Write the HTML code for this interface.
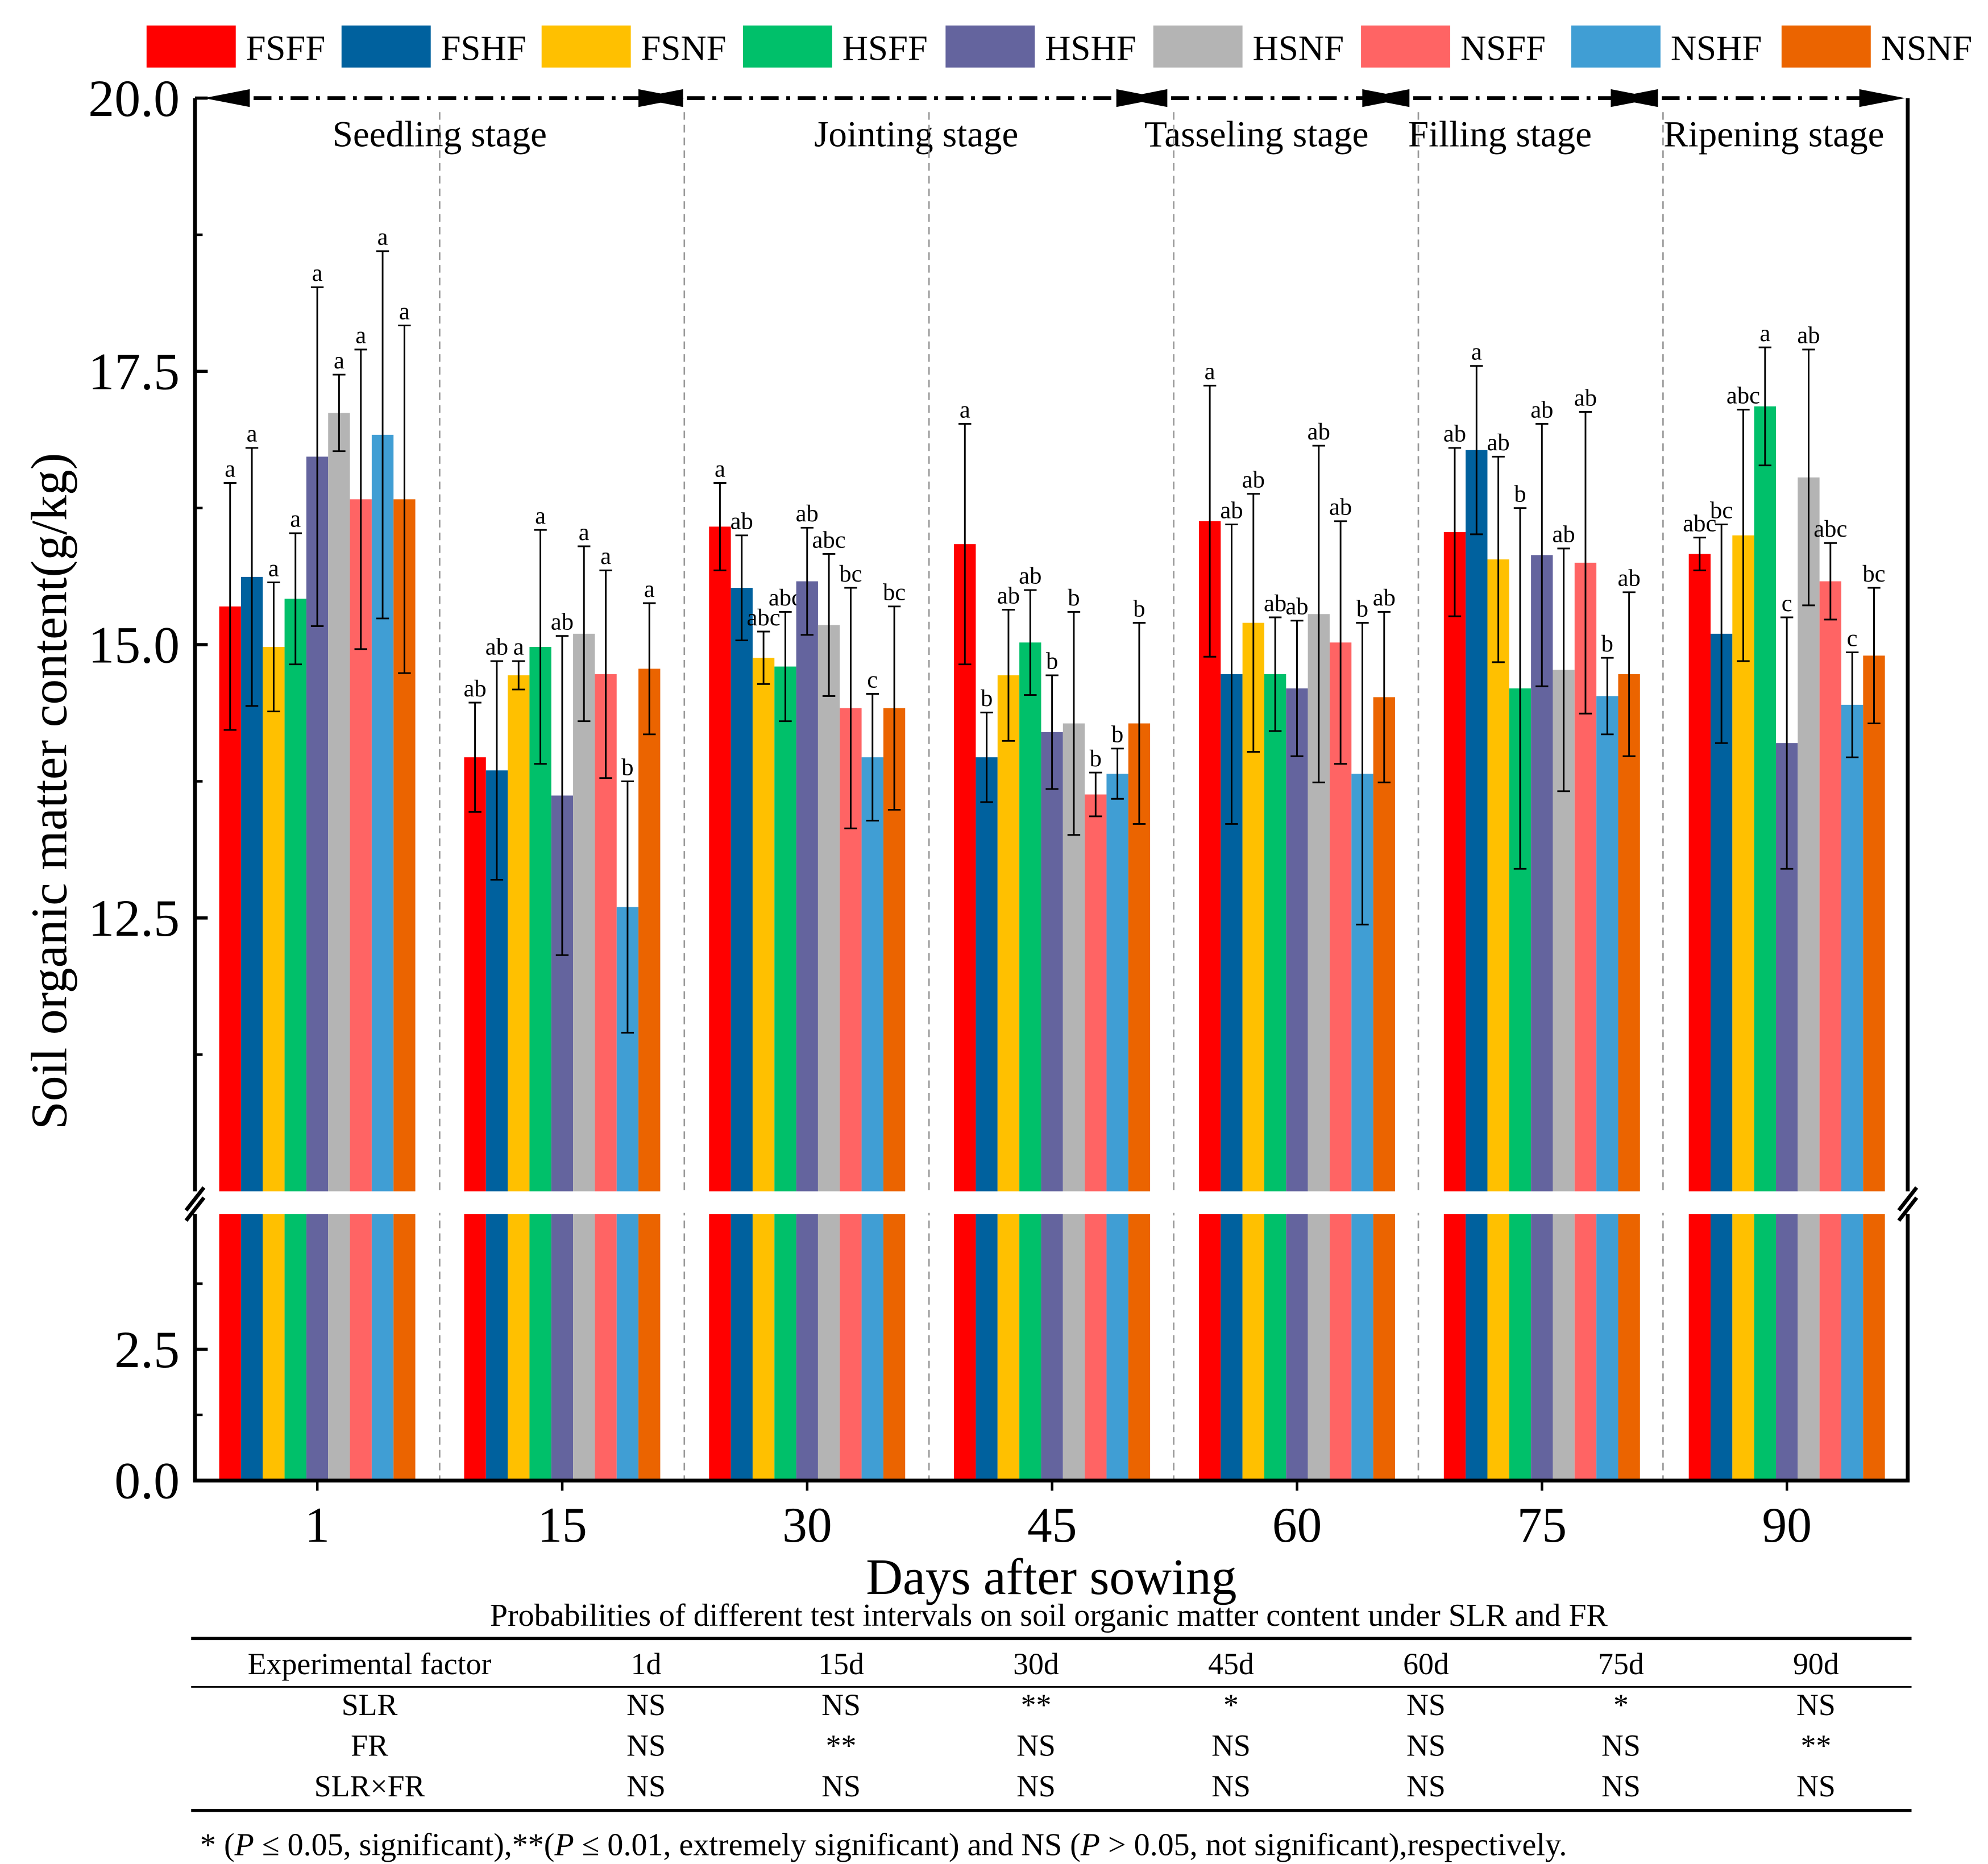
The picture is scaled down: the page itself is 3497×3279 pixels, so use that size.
<!DOCTYPE html>
<html><head><meta charset="utf-8"><style>
html,body{margin:0;padding:0;background:#fff}
svg{display:block;font-family:"Liberation Serif",serif}
</style></head><body>
<svg id="chart" width="3497" height="3279" viewBox="0 0 1560 1463" preserveAspectRatio="none" xmlns="http://www.w3.org/2000/svg">
<rect width="1560" height="1463" fill="#fff"/>
<g id="legend"></g>
<g id="stages"></g>
<g id="bars"></g>
<g id="axes"></g>
<g id="table"></g>
</svg>
<script>
const series=["FSFF","FSHF","FSNF","HSFF","HSHF","HSNF","NSFF","NSHF","NSNF"];
const colors=["#FF0000","#00619E","#FFC000","#00C06A","#64649E","#B4B4B4","#FF6464","#409ED4","#EB6400"];
const days=["1","15","30","45","60","75","90"];
const vFSFF=[15.35,13.97,16.08,15.92,16.13,16.03,15.83];
const vFSHF=[15.62,13.85,15.52,13.97,14.73,16.78,15.10];
const vFSNF=[14.98,14.72,14.88,14.72,15.20,15.78,16.00];
const vHSFF=[15.42,14.98,14.80,15.02,14.73,14.60,17.18];
const vHSHF=[16.72,13.62,15.58,14.20,14.60,15.82,14.10];
const vHSNF=[17.12,15.10,15.18,14.28,15.28,14.77,16.53];
const vNSFF=[16.33,14.73,14.42,13.63,15.02,15.75,15.58];
const vNSHF=[16.92,12.60,13.97,13.82,13.82,14.53,14.45];
const vNSNF=[16.33,14.78,14.42,14.28,14.52,14.73,14.90];
const eFSFF=[1.13,0.50,0.40,1.10,1.24,0.77,0.15];
const eFSHF=[1.18,1.00,0.48,0.41,1.37,0.77,1.00];
const eFSNF=[0.59,0.13,0.24,0.60,1.18,0.94,1.15];
const eHSFF=[0.60,1.07,0.50,0.48,0.52,1.65,0.54];
const eHSHF=[1.55,1.46,0.49,0.52,0.62,1.20,1.15];
const eHSNF=[0.35,0.80,0.65,1.02,1.54,1.11,1.17];
const eNSFF=[1.37,0.95,1.10,0.20,1.11,1.38,0.35];
const eNSHF=[1.68,1.15,0.58,0.23,1.38,0.35,0.48];
const eNSNF=[1.59,0.60,0.93,0.92,0.78,0.75,0.62];
const letters=[["a","a","a","a","a","a","a","a","a"],["ab","ab","a","a","ab","a","a","b","a"],["a","ab","abc","abc","ab","abc","bc","c","bc"],["a","b","ab","ab","b","b","b","b","b"],["a","ab","ab","ab","ab","ab","ab","b","ab"],["ab","a","ab","b","ab","ab","ab","b","ab"],["abc","bc","abc","a","c","ab","abc","c","bc"]];
const values=[vFSFF,vFSHF,vFSNF,vHSFF,vHSHF,vHSNF,vNSFF,vNSHF,vNSNF];
const errors=[eFSFF,eFSHF,eFSNF,eHSFF,eHSHF,eHSNF,eNSFF,eNSHF,eNSNF];
const upperTicks=[20.0,17.5,15.0,12.5];
const lowerTicks=[2.5,0.0];
const stages=["Seedling stage","Jointing stage","Tasseling stage","Filling stage","Ripening stage"];
const tableCols=["Experimental factor","1d","15d","30d","45d","60d","75d","90d"];
const tableRows=[["SLR","NS","NS","**","*","NS","*","NS"],["FR","NS","**","NS","NS","NS","NS","**"],["SLR×FR","NS","NS","NS","NS","NS","NS","NS"]];

const NS="http://www.w3.org/2000/svg";
function mk(p,t,a,txt){const e=document.createElementNS(NS,t);for(const k in a)e.setAttribute(k,a[k]);if(txt!==undefined)e.textContent=txt;p.appendChild(e);return e;}
const L=153,R=1497,T=77,B=1162,BRK1=935,BRK2=953;
const yU=v=>T+(20-v)*85.8;
const yL=v=>B-v*41.2;
const xC=i=>249+i*192.2;
const BW=17.1;

// legend
const lg=document.getElementById('legend');
const lx=[115,268,425,583,742,905,1068,1233,1398];
series.forEach((s,i)=>{
 const g=mk(lg,'g',{});
 
 
 mk(g,'rect',{x:lx[i],y:20,width:70,height:33,fill:colors[i]});
 mk(g,'text',{x:lx[i]+78,y:47,'font-size':28},s);
});

// stages
const st=document.getElementById('stages');
const segs=[[160,537],[500,912],[880,1105],[1070,1300],[1265,1495]];
const centers=[345,719,986,1177,1392];
segs.forEach((sg,i)=>{
 const g=mk(st,'g',{});
 
 
 mk(g,'line',{x1:sg[0]+10,y1:77,x2:sg[1]-10,y2:77,stroke:'#000','stroke-width':3,'stroke-dasharray':'14,6,3,6'});
 mk(g,'polygon',{points:`${sg[0]},77 ${sg[0]+36},70 ${sg[0]+36},84`,fill:'#000'});
 mk(g,'polygon',{points:`${sg[1]},77 ${sg[1]-36},70 ${sg[1]-36},84`,fill:'#000'});
 mk(g,'text',{x:centers[i],y:115,'font-size':29,'text-anchor':'middle'},stages[i]);
});
[345,537,729,921,1113,1305].forEach(x=>{
 const d=mk(st,'line',{x1:x,y1:88,x2:x,y2:1162,stroke:'#999','stroke-width':1.2,'stroke-dasharray':'6,4'});
 
 
});

// bars
const bg=document.getElementById('bars');
days.forEach((d,gi)=>{
 series.forEach((s,si)=>{
  const v=values[si][gi],e=errors[si][gi];
  const x=xC(gi)-77+si*BW;
  const g=mk(bg,'g',{});
  
  
  mk(g,'rect',{x:x,y:yU(v),width:BW,height:BRK1-yU(v),fill:colors[si]});
  mk(g,'rect',{x:x,y:BRK2,width:BW,height:B-BRK2,fill:colors[si]});
  const cx=x+BW/2;
  mk(g,'line',{x1:cx,y1:yU(v+e),x2:cx,y2:yU(v-e),stroke:'#000','stroke-width':1.3});
  mk(g,'line',{x1:cx-5,y1:yU(v+e),x2:cx+5,y2:yU(v+e),stroke:'#000','stroke-width':1.3});
  mk(g,'line',{x1:cx-5,y1:yU(v-e),x2:cx+5,y2:yU(v-e),stroke:'#000','stroke-width':1.3});
  mk(g,'text',{x:cx,y:yU(v+e)-5,'font-size':19,'text-anchor':'middle'},letters[gi][si]);
 });
});

// axes
const ax=document.getElementById('axes');
mk(ax,'rect',{x:150,y:936,width:1352,height:16,fill:'#fff'});
[[L,T,L,BRK1],[L,BRK2,L,B],[R,T,R,BRK1],[R,BRK2,R,B],[L-1.5,B,R+1.5,B]].forEach(c=>mk(ax,'line',{x1:c[0],y1:c[1],x2:c[2],y2:c[3],stroke:'#000','stroke-width':3}));
[L,R].forEach(x=>{
 mk(ax,'line',{x1:x-7,y1:950,x2:x+7,y2:932,stroke:'#000','stroke-width':3});
 mk(ax,'line',{x1:x-7,y1:958,x2:x+7,y2:940,stroke:'#000','stroke-width':3});
});
upperTicks.forEach(v=>{
 mk(ax,'line',{x1:L,y1:yU(v),x2:L+10,y2:yU(v),stroke:'#000','stroke-width':2.5});
 const t=mk(ax,'text',{x:L-12,y:yU(v)+14,'font-size':41,'text-anchor':'end'},v.toFixed(1));
 
 
});
[18.75,16.25,13.75,11.25].forEach(v=>mk(ax,'line',{x1:L,y1:yU(v),x2:L+6,y2:yU(v),stroke:'#000','stroke-width':2}));
lowerTicks.forEach(v=>{
 mk(ax,'line',{x1:L,y1:yL(v),x2:L+10,y2:yL(v),stroke:'#000','stroke-width':2.5});
 const t=mk(ax,'text',{x:L-12,y:yL(v)+14,'font-size':41,'text-anchor':'end'},v.toFixed(1));
 
 
});
[1.25,3.75].forEach(v=>mk(ax,'line',{x1:L,y1:yL(v),x2:L+6,y2:yL(v),stroke:'#000','stroke-width':2}));
days.forEach((d,i)=>{
 mk(ax,'line',{x1:xC(i),y1:B,x2:xC(i),y2:B+8,stroke:'#000','stroke-width':2});
 const t=mk(ax,'text',{x:xC(i),y:1210,'font-size':39,'text-anchor':'middle'},d);
 
 
});
const yt=mk(ax,'text',{x:52,y:621,'font-size':40,'text-anchor':'middle',transform:'rotate(-90 52 621)'},'Soil organic matter content(g/kg)');

const xt=mk(ax,'text',{x:825,y:1251,'font-size':40,'text-anchor':'middle'},'Days after sowing');


// table
const tb=document.getElementById('table');
const cap=mk(tb,'text',{x:823,y:1276,'font-size':25,'text-anchor':'middle'},'Probabilities of different test intervals on soil organic matter content under SLR and FR');

mk(tb,'line',{x1:150,y1:1286,x2:1500,y2:1286,stroke:'#000','stroke-width':2.5});
mk(tb,'line',{x1:150,y1:1324,x2:1500,y2:1324,stroke:'#000','stroke-width':1.3});
mk(tb,'line',{x1:150,y1:1421,x2:1500,y2:1421,stroke:'#000','stroke-width':2.5});
const colX=[290,507,660,813,966,1119,1272,1425];
tableCols.forEach((c,i)=>mk(tb,'text',{x:colX[i],y:1314,'font-size':24,'text-anchor':'middle'},c));
tableRows.forEach((r,ri)=>r.forEach((c,i)=>mk(tb,'text',{x:colX[i],y:1346+ri*32,'font-size':24,'text-anchor':'middle'},c)));
const fn=mk(tb,'text',{x:157,y:1456,'font-size':25},'');
fn.innerHTML='* (<tspan font-style="italic">P</tspan> ≤ 0.05, significant),**(<tspan font-style="italic">P</tspan> ≤ 0.01, extremely significant) and NS (<tspan font-style="italic">P</tspan> &gt; 0.05, not significant),respectively.';

</script>
</body></html>
